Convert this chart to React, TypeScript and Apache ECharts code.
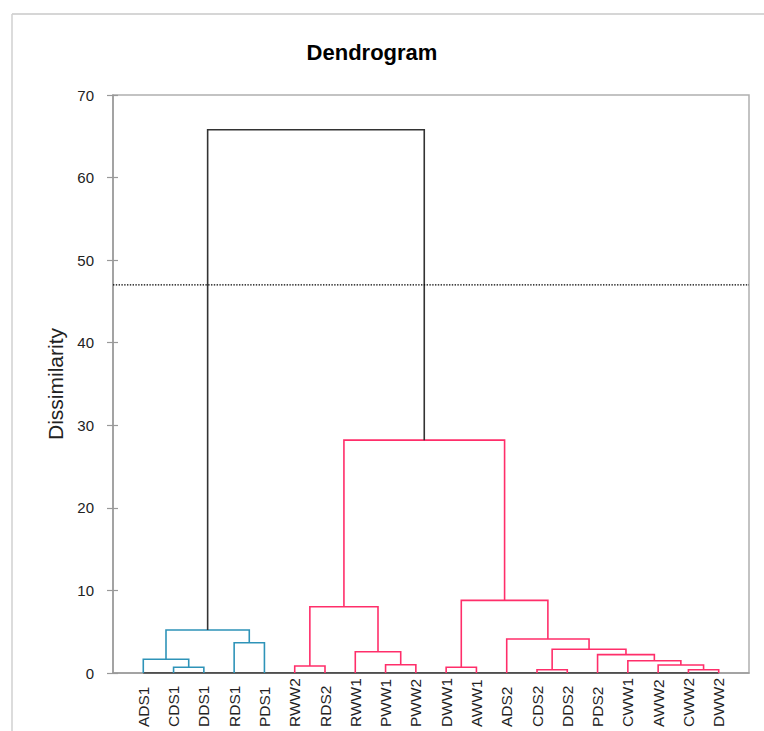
import React, { useEffect, useRef } from "react";
import * as echarts from "echarts";

const leaves = [
  "ADS1", "CDS1", "DDS1", "RDS1", "PDS1", "RWW2", "RDS2", "RWW1", "PWW1", "PWW2",
  "DWW1", "AWW1", "ADS2", "CDS2", "DDS2", "PDS2", "CWW1", "AWW2", "CWW2", "DWW2",
];

// merges: nodes 0..19 are leaves, 20+ are merges in order
const mergeLeft = [1, 0, 3, 21, 5, 8, 7, 24, 10, 13, 18, 17, 16, 15, 29, 12, 28, 27, 23];
const mergeRight = [2, 20, 4, 22, 6, 9, 25, 26, 11, 14, 19, 30, 31, 32, 33, 34, 35, 36, 37];
const mergeHeight = [0.69, 1.66, 3.67, 5.2, 0.85, 1.0, 2.58, 8.03, 0.69, 0.4, 0.4, 0.97, 1.49, 2.22, 2.87, 4.12, 8.8, 28.2, 65.8];

const cutHeight = 47;
const yTicks = [0, 10, 20, 30, 40, 50, 60, 70];

const clusterColors = ["#2E93B8", "#FF2E6A"];
const aboveCutColor = "#333333";

function buildLinks() {
  const n = leaves.length;
  const pos: number[] = [];
  const h: number[] = [];
  for (let i = 0; i < n; i++) {
    pos[i] = i + 1;
    h[i] = 0;
  }
  mergeHeight.forEach((mh, k) => {
    const id = n + k;
    pos[id] = (pos[mergeLeft[k]] + pos[mergeRight[k]]) / 2;
    h[id] = mh;
  });
  const color: string[] = [];
  const rootId = n + mergeHeight.length - 1;
  let clusterIdx = 0;
  const assign = (id: number, c: string | null) => {
    if (id < n) return;
    const k = id - n;
    let myColor = c;
    if (c === null) {
      if (mergeHeight[k] > cutHeight) {
        myColor = null;
      } else {
        myColor = clusterColors[clusterIdx % clusterColors.length];
        clusterIdx++;
      }
    }
    color[k] = myColor ?? aboveCutColor;
    assign(mergeLeft[k], myColor);
    assign(mergeRight[k], myColor);
  };
  assign(rootId, null);
  return mergeHeight.map((mh, k) => {
    const a = mergeLeft[k];
    const b = mergeRight[k];
    return {
      coords: [
        [pos[a], h[a]],
        [pos[a], mh],
        [pos[b], mh],
        [pos[b], h[b]],
      ],
      lineStyle: { color: color[k] },
    };
  });
}

export default function App() {
  const ref = useRef<HTMLDivElement>(null);
  useEffect(() => {
    if (!ref.current) return;
    const chart = echarts.init(ref.current, undefined, { renderer: "svg" });
    const links = buildLinks();
    const n = leaves.length;
    const option: any = {
      animation: false,
      backgroundColor: "#ffffff",
      title: {
        text: "Dendrogram",
        left: 367,
        textAlign: "center",
        top: 36,
        textStyle: {
          fontFamily: "Liberation Sans",
          fontWeight: "bold",
          fontSize: 22,
          color: "#000",
        },
      },
      graphic: [
        { type: "line", shape: { x1: 12, y1: 14, x2: 764, y2: 14 }, style: { stroke: "#c8c8c8", lineWidth: 1.5 } },
        { type: "line", shape: { x1: 12, y1: 14, x2: 12, y2: 731 }, style: { stroke: "#d0d0d0", lineWidth: 1.5 } },
      ],
      grid: {
        left: 113,
        right: 15,
        top: 95,
        bottom: 58,
        outerBoundsMode: "none",
        containLabel: false,
        show: true,
        borderColor: "#b0b0b0",
        borderWidth: 1.5,
      },
      xAxis: {
        type: "value",
        min: 0,
        max: n + 1,
        interval: 1,
        axisLine: { show: true, lineStyle: { color: "#999", width: 1.5 } },
        axisTick: { show: false },
        splitLine: { show: false },
        axisLabel: {
          rotate: 90,
          align: "left",
          margin: 54,
          fontFamily: "Liberation Sans",
          fontSize: 15.5,
          color: "#222",
          formatter: (v: number) => (v >= 1 && v <= n ? leaves[v - 1] : ""),
        },
      },
      yAxis: [
        {
          type: "value",
          min: yTicks[0],
          max: yTicks[yTicks.length - 1],
          interval: yTicks[1] - yTicks[0],
          name: "Dissimilarity",
          nameLocation: "middle",
          nameGap: 46,
          nameTextStyle: { fontFamily: "Liberation Sans", fontSize: 21, color: "#222" },
          axisLine: { show: true, lineStyle: { color: "#999", width: 1.5 } },
          axisTick: { show: true, length: 6, lineStyle: { color: "#999", width: 1.2 } },
          splitLine: { show: false },
          axisLabel: { margin: 19, fontFamily: "Liberation Sans", fontSize: 15, color: "#222" },
        },
        {
          type: "value",
          position: "left",
          offset: 0,
          min: yTicks[0],
          max: yTicks[yTicks.length - 1],
          interval: yTicks[1] - yTicks[0],
          axisLine: { show: false },
          axisTick: { show: true, inside: true, length: 5, lineStyle: { color: "#999", width: 1.2 } },
          axisLabel: { show: false },
          splitLine: { show: false },
        },
      ],
      series: [
        {
          type: "lines",
          coordinateSystem: "cartesian2d",
          polyline: true,
          silent: true,
          lineStyle: { width: 1.6, opacity: 1 },
          data: [
            { coords: [[1, 0], [n, 0]], lineStyle: { color: "#333", width: 1.6 } },
            ...links,
            {
              coords: [[0, cutHeight], [n + 1, cutHeight]],
              lineStyle: { color: "#000", type: "dotted", width: 1.4 },
            },
          ],
        },
      ],
    };
    chart.setOption(option);
    return () => chart.dispose();
  }, []);
  return <div ref={ref} style={{ width: 764, height: 731, position: "absolute", left: 0, top: 0 }} />;
}
